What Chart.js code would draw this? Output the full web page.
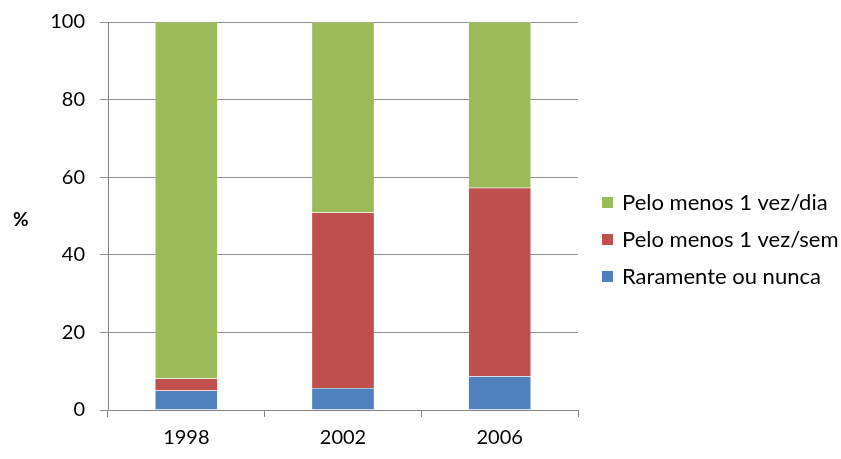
<!DOCTYPE html>
<html>
<head>
<meta charset="utf-8">
<script src="https://cdn.jsdelivr.net/npm/chart.js@4.4.1/dist/chart.umd.min.js"></script>
<style>
  html, body { margin: 0; padding: 0; background: #fff; }
  #wrap { position: relative; width: 841px; height: 459px; }
</style>
</head>
<body>
<div id="wrap"><canvas id="chart" width="841" height="459"></canvas></div>
<script>
// categories and series (percent of respondents)
const years = ['1998', '2002', '2006'];
const rarely = [5.0, 5.7, 8.7];
const weekly = [3.1, 45.2, 48.6];
const daily = [91.9, 49.1, 42.7];
const yTicks = [0, 20, 40, 60, 80, 100];

const FONT = 'Lato, "Open Sans", sans-serif';

/**
 * Horizontal "%" label at the left side
 */
const yLabelPlugin = {
    id: 'yLabel',
    afterDraw(chart) {
        const ctx = chart.ctx;
        ctx.save();
        ctx.fillStyle = '#000';
        ctx.font = 'bold 19px ' + FONT;
        ctx.textAlign = 'left';
        ctx.textBaseline = 'middle';
        ctx.fillText('%', 13, 220);
        ctx.restore();
    }
};

/**
 * Legend on the right, top series first
 */
const sideLegendPlugin = {
    id: 'sideLegend',
    afterDraw(chart) {
        const ctx = chart.ctx;
        const sets = chart.data.datasets.slice().reverse();
        const x = 602;
        const y0 = 203;
        const step = 37;
        ctx.save();
        ctx.font = '22px ' + FONT;
        ctx.textBaseline = 'middle';
        ctx.textAlign = 'left';
        sets.forEach((ds, i) => {
            const y = y0 + i * step;
            ctx.fillStyle = ds.backgroundColor;
            ctx.fillRect(x, y - 6, 11, 11);
            ctx.fillStyle = '#000';
            ctx.fillText(ds.label, x + 20, y);
        });
        ctx.restore();
    }
};

const ctx = document.getElementById('chart').getContext('2d');

new Chart(ctx, {
    type: 'bar',
    data: {
        labels: years,
        datasets: [
            { label: 'Raramente ou nunca', data: rarely, backgroundColor: '#4F81BD' },
            { label: 'Pelo menos 1 vez/sem', data: weekly, backgroundColor: '#C0504D' },
            { label: 'Pelo menos 1 vez/dia', data: daily, backgroundColor: '#9BBB59' }
        ]
    },
    options: {
        responsive: false,
        animation: false,
        layout: { padding: { top: 22, right: 263, left: 0, bottom: 0 } },
        datasets: {
            bar: {
                categoryPercentage: 1,
                barPercentage: 0.4,
                borderColor: 'rgba(255,255,255,0.5)',
                borderWidth: 0.5
            }
        },
        plugins: {
            legend: { display: false },
            tooltip: { enabled: false }
        },
        scales: {
            x: {
                stacked: true,
                afterFit: (scale) => {
                    scale.height = 49;
                    scale.paddingLeft = 0;
                    scale.paddingRight = 0;
                },
                grid: {
                    offset: true,
                    drawOnChartArea: false,
                    drawTicks: true,
                    tickLength: 7,
                    color: '#878787'
                },
                border: { color: '#878787', width: 1 },
                ticks: { color: '#000', font: { family: FONT, size: 20 }, padding: 9 }
            },
            y: {
                stacked: true,
                min: 0,
                max: 100,
                afterFit: (scale) => {
                    scale.width = 108;
                    scale.paddingTop = 0;
                    scale.paddingBottom = 0;
                },
                afterBuildTicks: (scale) => { scale.ticks = yTicks.map(v => ({ value: v })); },
                grid: { color: '#8e8e8e', tickLength: 8 },
                border: { color: '#878787', width: 1 },
                ticks: { color: '#000', font: { family: FONT, size: 20 }, padding: 15 }
            }
        }
    },
    plugins: [yLabelPlugin, sideLegendPlugin]
});
</script>
</body>
</html>
